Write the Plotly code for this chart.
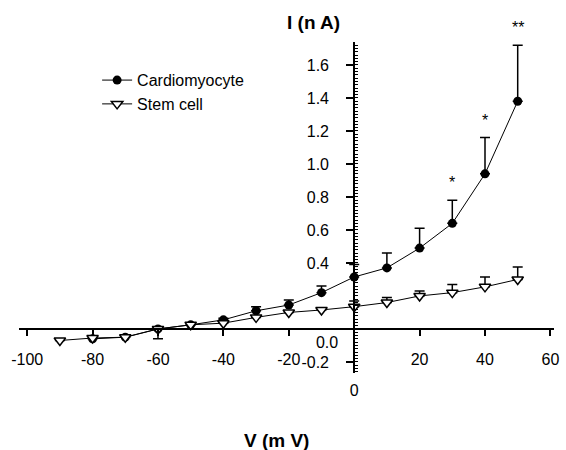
import plotly.graph_objects as go

# ---- data ----
cardio_v = [-80, -70, -60, -50, -40, -30, -20, -10, 0, 10, 20, 30, 40, 50]
cardio_i = [-0.06, -0.05, 0.0, 0.025, 0.055, 0.11, 0.145, 0.22, 0.315, 0.37, 0.49, 0.64, 0.94, 1.38]
cardio_err = [0, 0, 0, 0, 0.01, 0.025, 0.03, 0.04, 0.075, 0.09, 0.12, 0.14, 0.22, 0.34]
cardio_sig = ["", "", "", "", "", "", "", "", "", "", "", "*", "*", "**"]

stem_v = [-90, -80, -70, -60, -50, -40, -30, -20, -10, 0, 10, 20, 30, 40, 50]
stem_i = [-0.07, -0.055, -0.05, 0.0, 0.025, 0.035, 0.07, 0.10, 0.115, 0.135, 0.16, 0.20, 0.22, 0.255, 0.30]
stem_err_up = [0, 0, 0, 0, 0, 0, 0, 0, 0, 0.035, 0.03, 0.03, 0.05, 0.06, 0.075]
stem_err_down = [0, 0, 0, 0.06, 0, 0, 0, 0, 0, 0, 0, 0, 0, 0, 0]

y_ticks = [0.4, 0.6, 0.8, 1.0, 1.2, 1.4, 1.6, -0.2]
x_ticks = [-100, -80, -60, -40, -20, 20, 40, 60]

X_RANGE = [-102.5, 61.1]
Y_RANGE = [-0.267, 1.739]

FONT = "Arial, Liberation Sans, sans-serif"

fig = go.Figure()

fig.add_trace(go.Scatter(
    x=cardio_v, y=cardio_i, name="Cardiomyocyte", mode="lines+markers",
    line=dict(color="black", width=1),
    marker=dict(symbol="circle", size=9, color="black"),
    error_y=dict(type="data", symmetric=False, array=cardio_err,
                 arrayminus=[0] * len(cardio_err), color="black", thickness=1.5, width=5),
))
fig.add_trace(go.Scatter(
    x=stem_v, y=stem_i, name="Stem cell", mode="lines+markers",
    line=dict(color="black", width=1),
    marker=dict(symbol="triangle-down", size=10, color="white",
                line=dict(color="black", width=1.5)),
    error_y=dict(type="data", symmetric=False, array=stem_err_up,
                 arrayminus=stem_err_down, color="black", thickness=1.5, width=5),
))
# invisible helper trace so the overlay axes (origin labels) are drawn
fig.add_trace(go.Scatter(x=[0], y=[0], xaxis="x2", yaxis="y2", mode="markers",
                         marker=dict(opacity=0), showlegend=False, hoverinfo="skip"))

# significance stars
for v, i, e, s in zip(cardio_v, cardio_i, cardio_err, cardio_sig):
    if s:
        fig.add_annotation(x=v, y=i + e, text=s, showarrow=False,
                           yanchor="bottom", yshift=7,
                           font=dict(family=FONT, size=16, color="black"))

xpos = (0 - Y_RANGE[0]) / (Y_RANGE[1] - Y_RANGE[0])
ypos = (0 - X_RANGE[0]) / (X_RANGE[1] - X_RANGE[0])


def fmt(v, dec):
    return f"{v:.{dec}f}"


fig.update_layout(
    width=566, height=450,
    margin=dict(l=19, r=7, t=42, b=77),
    paper_bgcolor="white", plot_bgcolor="white",
    font=dict(family=FONT, size=16, color="black"),
    showlegend=True,
    legend=dict(x=0.146, y=0.936, xanchor="left", yanchor="top",
                bgcolor="rgba(0,0,0,0)", font=dict(family=FONT, size=16),
                tracegroupgap=0),
    xaxis=dict(range=X_RANGE, anchor="free", position=xpos,
               showline=True, linecolor="black", linewidth=1.5,
               showgrid=False, zeroline=False,
               tickvals=x_ticks, ticktext=[fmt(v, 0) for v in x_ticks],
               ticks="outside", ticklen=6, tickcolor="black",
               tickwidth=1.5, ticklabelstandoff=10,
               tickfont=dict(family=FONT, size=16)),
    yaxis=dict(range=Y_RANGE, anchor="free", position=ypos,
               showline=True, linecolor="black", linewidth=2,
               showgrid=False, zeroline=False,
               tickvals=y_ticks, ticktext=[fmt(v, 1) for v in y_ticks],
               ticks="outside", ticklen=7, tickcolor="black", tickwidth=1.5,
               ticklabelstandoff=14,
               minor=dict(ticks="inside", ticklen=3, dtick=0.02,
                          tickcolor="black", tickwidth=1),
               tickfont=dict(family=FONT, size=16)),
    yaxis2=dict(range=Y_RANGE, overlaying="y", anchor="free", position=ypos,
                showline=False, showgrid=False, zeroline=False,
                tickvals=[0], ticktext=["0.0"], ticks="",
                ticklabelshift=13, ticklabelstandoff=16,
                tickfont=dict(family=FONT, size=16)),
    xaxis2=dict(range=X_RANGE, overlaying="x", anchor="free", position=xpos,
                showline=False, showgrid=False, zeroline=False,
                tickvals=[0], ticktext=["0"], ticks="",
                ticklabelstandoff=50,
                tickfont=dict(family=FONT, size=16)),
)

fig.add_annotation(text="<b>I (n A)</b>", xref="paper", yref="paper",
                   x=(316 - 19) / 540, y=(373 - 23) / 331, showarrow=False,
                   xanchor="center", yanchor="middle",
                   font=dict(family=FONT, size=19))
fig.add_annotation(text="<b>V (m V)</b>", xref="paper", yref="paper",
                   x=(279 - 19) / 540, y=(373 - 440) / 331, showarrow=False,
                   xanchor="center", yanchor="middle",
                   font=dict(family=FONT, size=19))

fig.write_html("out.html", config={"displayModeBar": False},
               post_script="document.body.style.margin='0px';")
